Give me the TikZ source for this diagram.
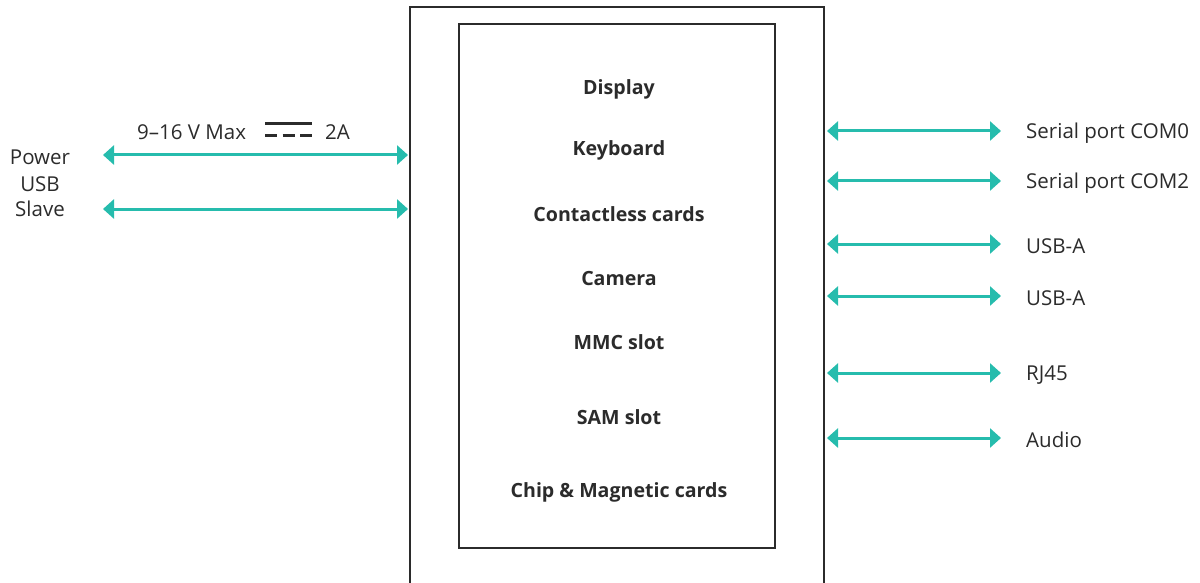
\documentclass[tikz,border=0pt]{standalone}
\usepackage{fontspec}
\setmainfont{Open Sans}
\usetikzlibrary{arrows.meta}
\definecolor{teal}{HTML}{26BCAD}
\definecolor{ink}{HTML}{2B2B2B}
\tikzset{
  conn/.style={draw=teal, line width=3pt, {Triangle[length=11pt,width=19pt]}-{Triangle[length=11pt,width=19pt]}},
  lbl/.style={font=\fontsize{20.5}{23}\selectfont, text=ink, inner sep=0pt},
  blbl/.style={font=\fontsize{19.6}{22}\selectfont\bfseries, text=ink, inner sep=0pt},
  box/.style={draw=ink, line width=2.2pt},
  dcline/.style={draw=ink, line width=3pt},
}
\begin{document}
\begin{tikzpicture}[x=1pt,y=-1pt]
\useasboundingbox (0,0) rectangle (1200,583);
% outer box (open at bottom)
\draw[box] (410,600) -- (410,7) -- (824,7) -- (824,600);
\node[box, minimum width=316pt, minimum height=524pt, inner sep=0pt] (inner) at (617,286) {};
% inner labels
\node[blbl] (display) at (619,89) {Display};
\node[blbl] (keyboard) at (619,150) {Keyboard};
\node[blbl] (contactless) at (619,214) {Contactless cards};
\node[blbl] (camera) at (619,278) {Camera};
\node[blbl] (mmc) at (619,342) {MMC slot};
\node[blbl] (sam) at (619,417) {SAM slot};
\node[blbl] (chip) at (619,492) {Chip \& Magnetic cards};
% left labels
\node[lbl] (power) at (40,157) {Power};
\node[lbl] (usb) at (40,184) {USB};
\node[lbl] (slave) at (40,209) {Slave};
\node[lbl, anchor=west] (volt) at (137,132) {9–16 V Max};
\node[lbl, anchor=west] (amp) at (325,132) {2A};
\draw[dcline] (265,123.5) coordinate (dcA) -- (312,123.5) coordinate (dcB);
\draw[dcline, dash pattern=on 12pt off 5.5pt] (265,135.5) coordinate (dcC) -- (312,135.5) coordinate (dcD);
% left connectors
\coordinate (l1a) at (103,155); \coordinate (l1b) at (408,155);
\coordinate (l2a) at (103,209); \coordinate (l2b) at (408,209);
\draw[conn] (l1a) -- (l1b);
\draw[conn] (l2a) -- (l2b);
% right connectors and labels
\foreach \y/\t/\n in {131/Serial port COM0/r1, 181/Serial port COM2/r2, 244/USB-A/r3, 296/USB-A/r4, 373/RJ45/r5, 438/Audio/r6}{
  \coordinate (\n a) at (827,\y);
  \coordinate (\n b) at (1001,\y);
  \node[lbl, anchor=west] (\n t) at (1026,\y+2) {\t};
  \draw[conn] (\n a) -- (\n b);
}
\end{tikzpicture}
\end{document}
